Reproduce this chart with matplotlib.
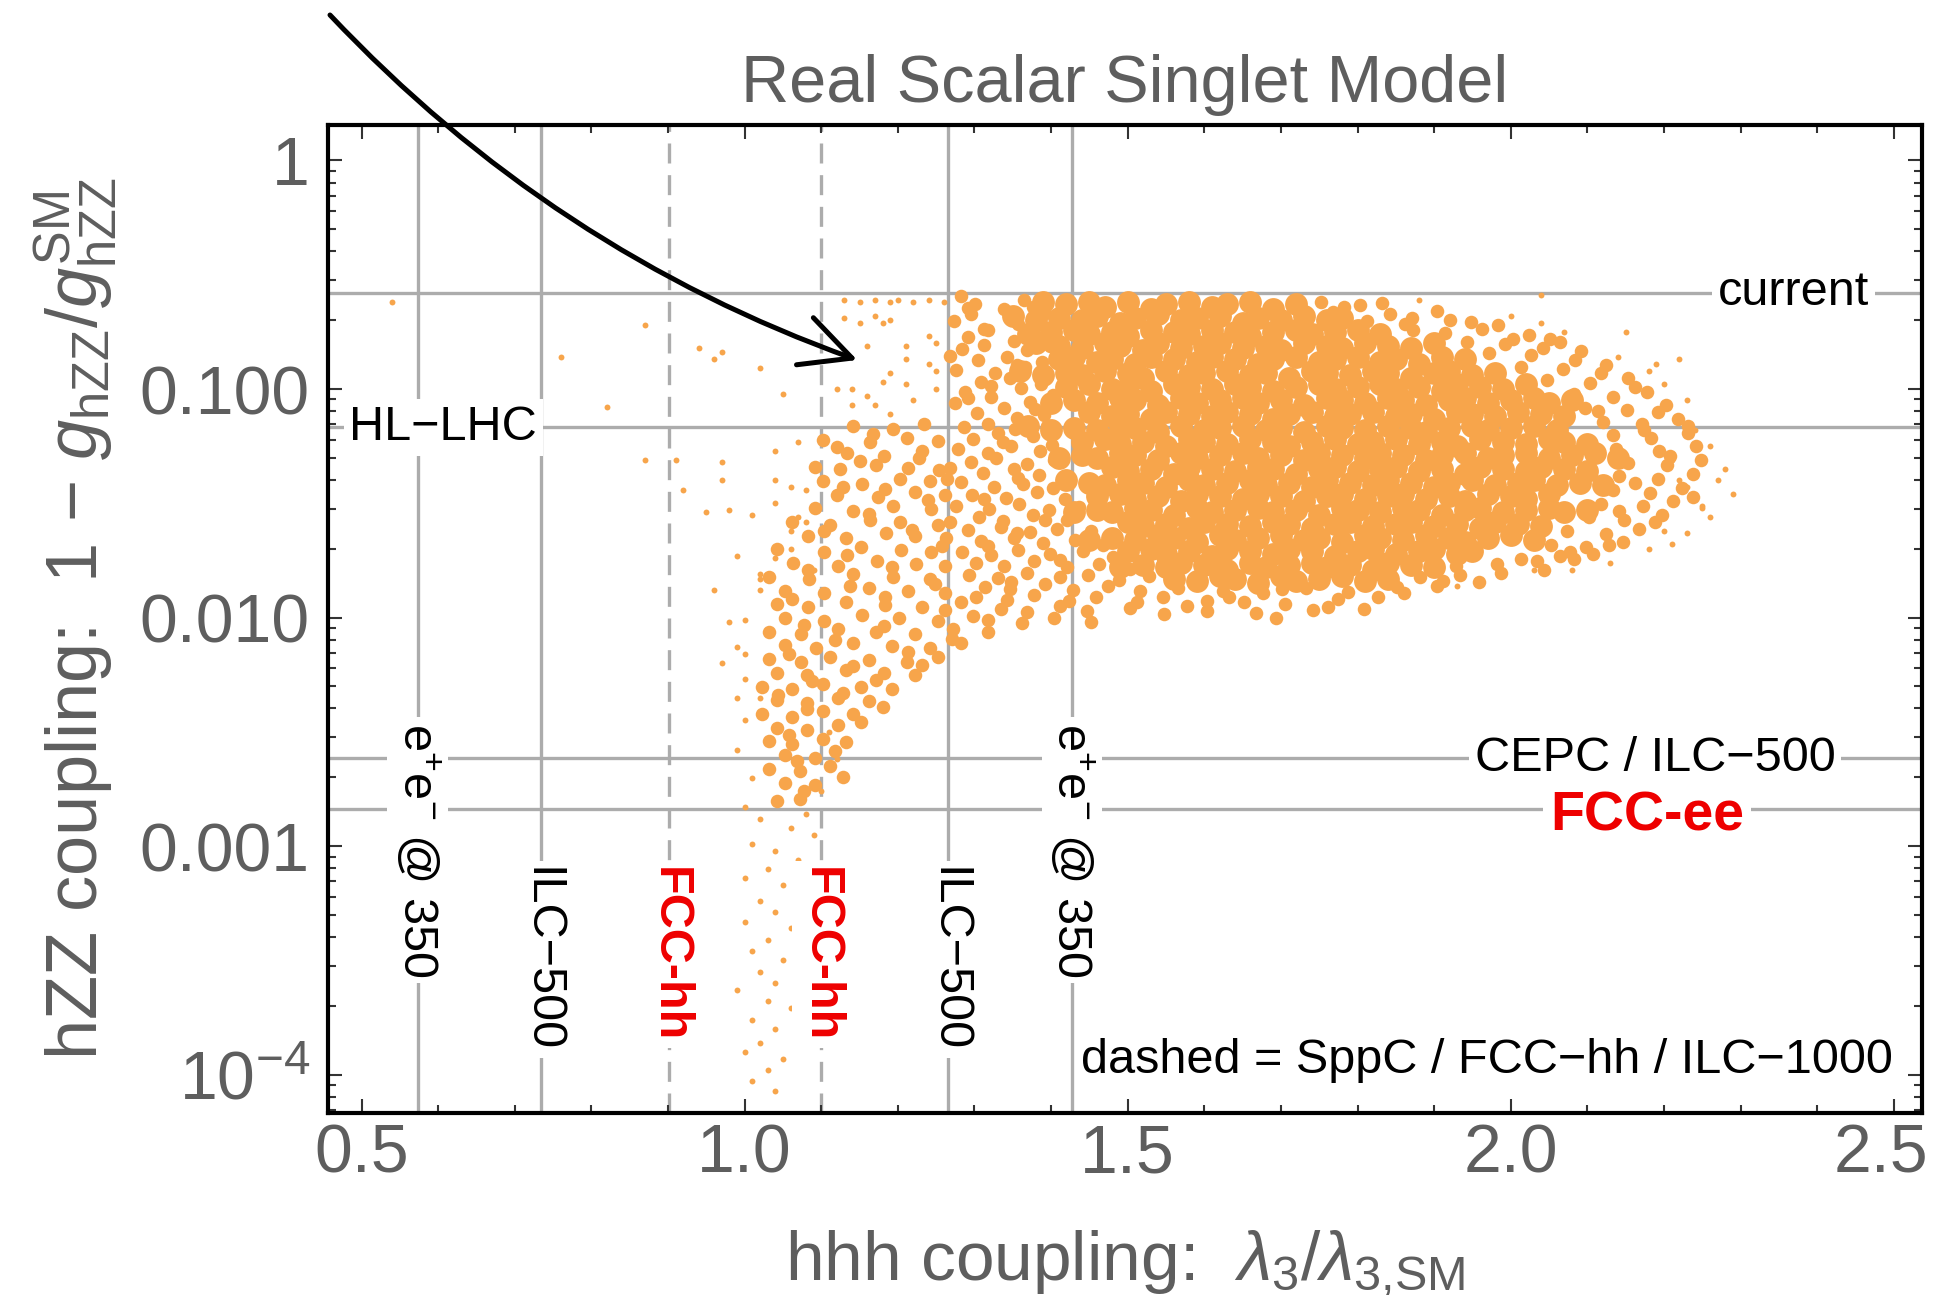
import numpy as np
import matplotlib
matplotlib.use("Agg")
import matplotlib.pyplot as plt
from matplotlib.ticker import FixedLocator, FixedFormatter, MultipleLocator, LogLocator, NullFormatter

plt.rcParams["font.family"] = ["Liberation Sans", "DejaVu Sans"]
plt.rcParams["mathtext.fontset"] = "custom"
plt.rcParams["mathtext.rm"] = "Liberation Sans"
plt.rcParams["mathtext.it"] = "Liberation Sans:italic"
plt.rcParams["mathtext.bf"] = "Liberation Sans:bold"

TXT_GRAY = "#5e5e5e"
LINE_GRAY = "#acacac"
ORANGE = "#f7a54b"
RED = "#ee0000"

# scan points as (lambda3/lambda3_SM, log10(1 - g_hZZ/g_hZZ^SM))
# densest part of the scan
dense_pts = [
    (1.39,-0.62),(1.42,-0.63),(1.45,-0.62),(1.47,-0.64),(1.50,-0.62),(1.53,-0.65),(1.55,-0.63),(1.58,-0.62),(1.61,-0.64),(1.63,-0.63),(1.66,-0.62),(1.69,-0.65),(1.72,-0.63),
    (1.35,-0.68),(1.38,-0.70),(1.41,-0.69),(1.44,-0.70),(1.46,-0.68),(1.49,-0.71),(1.51,-0.69),(1.54,-0.67),(1.57,-0.70),(1.59,-0.69),(1.62,-0.68),(1.65,-0.71),(1.67,-0.69),(1.70,-0.70),(1.73,-0.68),(1.76,-0.70),(1.78,-0.69),
    (1.37,-0.76),(1.40,-0.75),(1.43,-0.74),(1.45,-0.76),(1.48,-0.75),(1.50,-0.77),(1.53,-0.74),(1.56,-0.75),(1.58,-0.76),(1.61,-0.74),(1.64,-0.75),(1.66,-0.77),(1.69,-0.75),(1.72,-0.74),(1.74,-0.76),(1.77,-0.75),(1.80,-0.74),(1.83,-0.76),
    (1.38,-0.80),(1.41,-0.81),(1.44,-0.82),(1.47,-0.80),(1.49,-0.81),(1.52,-0.83),(1.54,-0.80),(1.57,-0.82),(1.60,-0.81),(1.62,-0.80),(1.65,-0.82),(1.68,-0.81),(1.70,-0.83),(1.73,-0.80),(1.76,-0.81),(1.78,-0.82),(1.81,-0.80),(1.84,-0.81),(1.87,-0.82),(1.90,-0.80),
    (1.41,-0.87),(1.43,-0.86),(1.46,-0.88),(1.48,-0.87),(1.51,-0.89),(1.53,-0.86),(1.56,-0.87),(1.59,-0.88),(1.61,-0.86),(1.64,-0.87),(1.67,-0.89),(1.69,-0.87),(1.72,-0.86),(1.75,-0.88),(1.77,-0.87),(1.80,-0.86),(1.83,-0.88),(1.85,-0.87),(1.88,-0.89),(1.91,-0.86),(1.94,-0.87),
    (1.36,-0.92),(1.39,-0.94),(1.42,-0.93),(1.44,-0.94),(1.47,-0.92),(1.50,-0.93),(1.52,-0.95),(1.55,-0.92),(1.58,-0.94),(1.60,-0.93),(1.63,-0.92),(1.66,-0.94),(1.68,-0.93),(1.71,-0.95),(1.74,-0.92),(1.76,-0.93),(1.79,-0.94),(1.82,-0.92),(1.84,-0.93),(1.87,-0.95),(1.90,-0.93),(1.92,-0.92),(1.95,-0.94),(1.98,-0.93),
    (1.42,-0.99),(1.45,-0.98),(1.48,-1.00),(1.50,-0.99),(1.53,-1.01),(1.56,-0.98),(1.58,-0.99),(1.61,-1.00),(1.64,-0.98),(1.66,-0.99),(1.69,-1.01),(1.72,-0.99),(1.75,-0.98),(1.77,-1.00),(1.80,-0.99),(1.83,-0.98),(1.85,-1.00),(1.88,-0.99),(1.91,-1.01),(1.93,-0.98),(1.96,-0.99),(1.99,-1.00),(2.02,-0.98),
    (1.40,-1.06),(1.43,-1.05),(1.46,-1.06),(1.49,-1.04),(1.51,-1.05),(1.54,-1.07),(1.57,-1.04),(1.59,-1.06),(1.62,-1.05),(1.65,-1.04),(1.67,-1.06),(1.70,-1.05),(1.73,-1.07),(1.76,-1.04),(1.78,-1.05),(1.81,-1.06),(1.84,-1.04),(1.86,-1.05),(1.89,-1.07),(1.92,-1.05),(1.94,-1.04),(1.97,-1.06),(2.00,-1.05),(2.03,-1.04),(2.05,-1.06),(2.08,-1.05),
    (1.45,-1.10),(1.48,-1.12),(1.50,-1.11),(1.53,-1.13),(1.55,-1.10),(1.58,-1.11),(1.61,-1.12),(1.63,-1.10),(1.66,-1.11),(1.69,-1.13),(1.71,-1.11),(1.74,-1.10),(1.77,-1.12),(1.79,-1.11),(1.82,-1.10),(1.85,-1.12),(1.87,-1.11),(1.90,-1.13),(1.93,-1.10),(1.95,-1.11),(1.98,-1.12),(2.01,-1.10),(2.04,-1.11),(2.07,-1.12),
    (1.37,-1.16),(1.40,-1.18),(1.43,-1.17),(1.46,-1.18),(1.49,-1.16),(1.51,-1.17),(1.54,-1.19),(1.57,-1.16),(1.60,-1.18),(1.62,-1.17),(1.65,-1.16),(1.68,-1.18),(1.70,-1.17),(1.73,-1.19),(1.76,-1.16),(1.78,-1.17),(1.81,-1.18),(1.84,-1.16),(1.87,-1.17),(1.89,-1.19),(1.92,-1.17),(1.95,-1.16),(1.97,-1.18),(2.00,-1.17),(2.03,-1.16),(2.06,-1.18),
    (1.44,-1.23),(1.47,-1.22),(1.49,-1.24),(1.52,-1.23),(1.55,-1.25),(1.58,-1.22),(1.60,-1.23),(1.63,-1.24),(1.66,-1.22),(1.69,-1.23),(1.71,-1.25),(1.74,-1.23),(1.77,-1.22),(1.80,-1.24),(1.82,-1.23),(1.85,-1.22),(1.88,-1.24),(1.91,-1.23),(1.93,-1.25),(1.96,-1.22),(1.99,-1.23),(2.02,-1.24),(2.05,-1.22),(2.07,-1.23),(2.10,-1.24),
    (1.41,-1.30),(1.44,-1.29),(1.46,-1.30),(1.49,-1.28),(1.51,-1.29),(1.54,-1.31),(1.57,-1.28),(1.59,-1.30),(1.62,-1.29),(1.65,-1.28),(1.67,-1.30),(1.70,-1.29),(1.73,-1.31),(1.75,-1.28),(1.78,-1.29),(1.81,-1.30),(1.83,-1.28),(1.86,-1.29),(1.89,-1.31),(1.91,-1.29),(1.94,-1.28),(1.97,-1.30),(1.99,-1.29),(2.02,-1.28),(2.05,-1.30),(2.08,-1.29),(2.11,-1.28),(2.14,-1.30),
    (1.48,-1.34),(1.50,-1.36),(1.53,-1.35),(1.56,-1.37),(1.58,-1.34),(1.61,-1.35),(1.64,-1.36),(1.67,-1.34),(1.69,-1.35),(1.72,-1.37),(1.75,-1.35),(1.77,-1.34),(1.80,-1.36),(1.83,-1.35),(1.85,-1.34),(1.88,-1.36),(1.91,-1.35),(1.94,-1.37),(1.96,-1.34),(1.99,-1.35),(2.02,-1.36),(2.04,-1.34),(2.07,-1.35),(2.10,-1.36),
    (1.42,-1.40),(1.45,-1.41),(1.47,-1.42),(1.50,-1.40),(1.52,-1.41),(1.55,-1.43),(1.58,-1.40),(1.60,-1.42),(1.63,-1.41),(1.66,-1.40),(1.68,-1.42),(1.71,-1.41),(1.74,-1.43),(1.76,-1.40),(1.79,-1.41),(1.82,-1.42),(1.84,-1.40),(1.87,-1.41),(1.90,-1.43),(1.92,-1.41),(1.95,-1.40),(1.98,-1.42),(2.01,-1.41),(2.03,-1.40),(2.06,-1.42),(2.09,-1.41),(2.12,-1.42),
    (1.46,-1.47),(1.49,-1.46),(1.51,-1.48),(1.54,-1.47),(1.57,-1.49),(1.59,-1.46),(1.62,-1.47),(1.65,-1.48),(1.67,-1.46),(1.70,-1.47),(1.73,-1.49),(1.76,-1.47),(1.78,-1.46),(1.81,-1.48),(1.84,-1.47),(1.86,-1.46),(1.89,-1.48),(1.92,-1.47),(1.94,-1.49),(1.97,-1.46),(2.00,-1.47),(2.02,-1.48),(2.05,-1.46),
    (1.43,-1.54),(1.46,-1.53),(1.48,-1.54),(1.51,-1.52),(1.53,-1.53),(1.56,-1.55),(1.59,-1.52),(1.61,-1.54),(1.64,-1.53),(1.67,-1.52),(1.69,-1.54),(1.72,-1.53),(1.75,-1.55),(1.78,-1.52),(1.80,-1.53),(1.83,-1.54),(1.86,-1.52),(1.88,-1.53),(1.91,-1.55),(1.94,-1.53),(1.96,-1.52),(1.99,-1.54),(2.02,-1.53),(2.05,-1.52),(2.07,-1.54),(2.10,-1.53),
    (1.50,-1.58),(1.52,-1.60),(1.55,-1.59),(1.58,-1.61),(1.60,-1.58),(1.63,-1.59),(1.66,-1.60),(1.69,-1.58),(1.71,-1.59),(1.74,-1.61),(1.77,-1.59),(1.79,-1.58),(1.82,-1.60),(1.85,-1.59),(1.87,-1.58),(1.90,-1.60),(1.93,-1.59),(1.96,-1.61),(1.98,-1.58),(2.01,-1.59),(2.04,-1.60),
    (1.45,-1.66),(1.48,-1.65),(1.51,-1.66),(1.54,-1.64),(1.56,-1.65),(1.59,-1.67),(1.62,-1.64),(1.64,-1.66),(1.67,-1.65),(1.70,-1.64),(1.73,-1.66),(1.75,-1.65),(1.78,-1.67),(1.81,-1.64),(1.83,-1.65),(1.86,-1.66),(1.89,-1.64),(1.92,-1.65),(1.94,-1.67),(1.97,-1.65),(2.00,-1.64),(2.03,-1.66),
    (1.50,-1.71),(1.53,-1.70),(1.55,-1.72),(1.58,-1.71),(1.61,-1.73),(1.63,-1.70),(1.66,-1.71),(1.69,-1.72),(1.71,-1.70),(1.74,-1.71),(1.77,-1.73),(1.80,-1.71),(1.82,-1.70),(1.85,-1.72),(1.88,-1.71),(1.90,-1.70),(1.93,-1.72),(1.95,-1.71),
    (1.49,-1.78),(1.52,-1.77),(1.55,-1.78),(1.57,-1.76),(1.60,-1.77),(1.63,-1.79),(1.66,-1.76),(1.68,-1.78),(1.71,-1.77),(1.74,-1.76),(1.76,-1.78),(1.79,-1.77),(1.82,-1.79),(1.84,-1.76),(1.87,-1.77),(1.90,-1.78),
    (1.56,-1.83),(1.59,-1.84),(1.62,-1.82),(1.64,-1.83),(1.67,-1.85),(1.70,-1.82),(1.72,-1.84),(1.75,-1.83),(1.78,-1.82),(1.81,-1.84),(1.84,-1.83),
]

# medium density: left shoulder, lower arm and fringes of the core
mid_pts = [
    (1.282,-0.595),(1.301,-0.628),(1.364,-0.612),(1.376,-0.641),(1.296,-0.672),(1.338,-0.652),(1.392,-0.668),
    (1.273,-0.703),(1.318,-0.741),(1.357,-0.716),(1.401,-0.733),(1.291,-0.772),(1.351,-0.788),(1.379,-0.762),
    (1.284,-0.823),(1.313,-0.806),(1.369,-0.829),(1.398,-0.812),(1.305,-0.875),(1.342,-0.858),(1.388,-0.884),
    (1.276,-0.918),(1.327,-0.932),(1.366,-0.905),(1.309,-0.968),(1.346,-0.951),(1.387,-0.977),
    (1.288,-1.012),(1.322,-1.034),(1.361,-0.996),(1.402,-1.027),(1.274,-1.061),(1.338,-1.082),(1.372,-1.058),
    (1.303,-1.107),(1.356,-1.129),(1.391,-1.114),(1.286,-1.166),(1.317,-1.152),(1.353,-1.173),(1.395,-1.161),
    (1.298,-1.219),(1.337,-1.232),(1.376,-1.207),(1.279,-1.262),(1.318,-1.281),(1.348,-1.248),(1.386,-1.273),
    (1.296,-1.318),(1.328,-1.304),(1.368,-1.327),(1.404,-1.311),(1.311,-1.369),(1.352,-1.352),(1.384,-1.378),
    (1.282,-1.408),(1.326,-1.427),(1.363,-1.414),(1.402,-1.433),(1.297,-1.462),(1.341,-1.476),(1.381,-1.452),(1.418,-1.481),
    (1.276,-1.512),(1.319,-1.527),(1.358,-1.505),(1.397,-1.531),(1.436,-1.518),(1.306,-1.561),(1.337,-1.579),(1.377,-1.552),(1.421,-1.573),
    (1.291,-1.618),(1.334,-1.603),(1.372,-1.626),(1.408,-1.611),(1.452,-1.622),(1.309,-1.667),(1.351,-1.654),(1.389,-1.674),(1.431,-1.659),(1.468,-1.681),
    (1.284,-1.712),(1.322,-1.726),(1.357,-1.703),(1.398,-1.724),(1.442,-1.708),(1.481,-1.734),
    (1.302,-1.763),(1.339,-1.775),(1.378,-1.752),(1.421,-1.781),(1.462,-1.764),(1.503,-1.786),
    (1.293,-1.812),(1.331,-1.827),(1.369,-1.804),(1.412,-1.823),(1.448,-1.812),(1.489,-1.836),(1.528,-1.818),
    (1.314,-1.866),(1.347,-1.874),(1.392,-1.853),(1.428,-1.879),(1.474,-1.861),(1.516,-1.884),(1.566,-1.871),
    (1.302,-1.912),(1.343,-1.924),(1.378,-1.903),(1.424,-1.927),(1.458,-1.908),(1.512,-1.934),(1.546,-1.912),(1.603,-1.926),
    (1.334,-1.962),(1.368,-1.974),(1.412,-1.951),(1.447,-1.973),(1.503,-1.958),(1.548,-1.984),(1.318,-2.012),(1.362,-2.024),(1.404,-2.003),(1.452,-2.021),
    (1.624,-1.882),(1.677,-1.894),(1.733,-1.872),(1.788,-1.887),(1.852,-1.868),(1.904,-1.862),(1.958,-1.843),
    (1.652,-1.934),(1.706,-1.942),(1.774,-1.921),(1.827,-1.912),(1.603,-1.972),(1.668,-1.982),(1.742,-1.968),(1.808,-1.961),
    (1.882,-1.823),(1.934,-1.812),(1.987,-1.804),(2.043,-1.793),(1.928,-1.773),(1.982,-1.764),(2.034,-1.752),(2.083,-1.743),
    (2.003,-0.782),(2.064,-0.793),(1.972,-0.843),(2.027,-0.852),(2.092,-0.833),(2.013,-0.902),(2.068,-0.914),(2.124,-0.893),
    (2.047,-0.962),(2.103,-0.974),(2.153,-0.951),(2.082,-1.023),(2.133,-1.034),(2.178,-1.012),(2.097,-1.082),(2.152,-1.093),(2.203,-1.071),
    (2.121,-1.143),(2.172,-1.154),(2.218,-1.132),(2.134,-1.202),(2.183,-1.214),(2.232,-1.193),(2.138,-1.262),(2.193,-1.273),(2.242,-1.251),
    (2.153,-1.322),(2.204,-1.334),(2.248,-1.312),(2.142,-1.382),(2.192,-1.393),(2.238,-1.371),(2.133,-1.442),(2.182,-1.454),(2.224,-1.432),
    (2.118,-1.502),(2.173,-1.513),(2.212,-1.491),(2.102,-1.562),(2.148,-1.574),(2.198,-1.553),(2.073,-1.622),(2.124,-1.633),(2.168,-1.612),
    (2.052,-1.682),(2.098,-1.693),(2.147,-1.671),(2.013,-1.742),(2.064,-1.731),(2.108,-1.722),
    (1.752,-0.621),(1.803,-0.634),(1.768,-0.662),(1.843,-0.673),(1.904,-0.658),(1.812,-0.703),(1.862,-0.714),(1.921,-0.696),(1.983,-0.722),
    (1.872,-0.742),(1.914,-0.753),(1.962,-0.738),(2.024,-0.762),(1.943,-0.793),(1.993,-0.804),
    (1.142,-1.163),(1.193,-1.174),(1.234,-1.152),(1.102,-1.221),(1.163,-1.233),(1.212,-1.214),(1.252,-1.226),
    (1.133,-1.282),(1.182,-1.293),(1.231,-1.271),(1.092,-1.343),(1.124,-1.352),(1.172,-1.331),(1.213,-1.344),(1.254,-1.353),
    (1.102,-1.402),(1.153,-1.414),(1.203,-1.392),(1.242,-1.404),(1.121,-1.462),(1.174,-1.473),(1.222,-1.451),(1.261,-1.464),
    (1.092,-1.522),(1.142,-1.533),(1.193,-1.511),(1.243,-1.524),(1.062,-1.582),(1.112,-1.593),(1.164,-1.571),(1.203,-1.584),(1.252,-1.593),
    (1.083,-1.642),(1.132,-1.653),(1.184,-1.631),(1.222,-1.644),(1.263,-1.653),(1.042,-1.702),(1.103,-1.713),(1.152,-1.691),(1.204,-1.703),(1.243,-1.714),
    (1.063,-1.762),(1.122,-1.773),(1.173,-1.751),(1.224,-1.764),(1.262,-1.773),(1.032,-1.822),(1.084,-1.833),(1.142,-1.811),(1.193,-1.824),(1.242,-1.833),
    (1.053,-1.882),(1.104,-1.893),(1.162,-1.871),(1.213,-1.884),(1.261,-1.893),(1.042,-1.942),(1.083,-1.953),(1.132,-1.931),(1.183,-1.944),(1.232,-1.953),(1.282,-1.932),
    (1.052,-2.002),(1.103,-2.013),(1.153,-1.991),(1.202,-2.004),(1.252,-2.013),(1.298,-1.992),
    (1.032,-2.062),(1.073,-2.073),(1.122,-2.051),(1.172,-2.064),(1.222,-2.073),(1.272,-2.052),(1.318,-2.063),
    (1.052,-2.122),(1.093,-2.133),(1.142,-2.111),(1.192,-2.124),(1.242,-2.133),(1.282,-2.112),
    (1.032,-2.182),(1.073,-2.193),(1.112,-2.171),(1.162,-2.184),(1.212,-2.193),(1.252,-2.172),
    (1.042,-2.242),(1.082,-2.253),(1.132,-2.231),(1.182,-2.244),(1.222,-2.253),(1.022,-2.302),(1.062,-2.313),(1.102,-2.291),(1.152,-2.304),(1.192,-2.313),
    (1.042,-2.362),(1.082,-2.373),(1.122,-2.351),(1.162,-2.364),(1.022,-2.422),(1.062,-2.433),(1.102,-2.411),(1.142,-2.424),
    (1.042,-2.482),(1.082,-2.493),(1.122,-2.471),(1.032,-2.542),(1.062,-2.553),(1.102,-2.531),(1.132,-2.544),
    (1.052,-2.602),(1.092,-2.613),(1.032,-2.662),(1.072,-2.673),(1.112,-2.651),(1.052,-2.722),(1.092,-2.733),(1.042,-2.802),(1.072,-2.793),
    (1.291,-0.647),(1.347,-0.688),(1.312,-0.738),(1.383,-0.797),(1.268,-0.856),(1.356,-0.893),(1.321,-0.987),(1.292,-1.041),(1.379,-1.086),(1.331,-1.194),
    (1.401,-1.243),(1.268,-1.347),(1.357,-1.391),(1.312,-1.482),(1.392,-1.572),(1.268,-1.583),(1.355,-1.632),(1.318,-1.688),(1.412,-1.748),(1.348,-1.843),
    (1.168,-1.195),(1.121,-1.253),(1.228,-1.302),(1.151,-1.314),(1.264,-1.392),(1.183,-1.437),(1.128,-1.428),(1.239,-1.487),(1.162,-1.545),(1.218,-1.617),
    (1.104,-1.622),(1.257,-1.685),(1.134,-1.727),(1.192,-1.781),(1.083,-1.792),(1.248,-1.852),(1.138,-1.862),(1.183,-1.912),(1.062,-1.918),(1.262,-1.968),
    (1.078,-2.032),(1.182,-2.037),(1.271,-2.094),(1.118,-2.098),(1.213,-2.152),(1.058,-2.158),(1.142,-2.212),(1.232,-2.208),(1.088,-2.278),(1.172,-2.272),
    (1.043,-2.338),(1.128,-2.332),(1.181,-2.392),(1.082,-2.402),(1.152,-2.458),(1.058,-2.512),(1.118,-2.582),(1.068,-2.628),(1.128,-2.698),(1.078,-2.758),
    (2.118,-0.932),(2.162,-0.991),(2.192,-1.102),(2.232,-1.162),(2.208,-1.292),(2.162,-1.412),(2.238,-1.472),(2.142,-1.532),(2.188,-1.582),(2.128,-1.683),
    (2.078,-1.712),(2.174,-1.181),(2.114,-1.098),(2.084,-0.872),(2.042,-0.822),
    (1.782,-0.641),(1.871,-0.688),(1.948,-0.706),(1.832,-0.622),(2.051,-0.782),
    (1.632,-1.912),(1.702,-1.873),(1.762,-1.952),(1.861,-1.893),(1.912,-1.842),(1.578,-1.951),(1.694,-2.002),
]

# isolated points: low tail, left side, outliers and right edge
sparse_pts = [
    (1.02,-2.88),(1.06,-2.92),(1.09,-2.95),(1.01,-2.99),(1.04,-3.02),(1.07,-3.06),(1.03,-3.10),(1.00,-3.14),(1.05,-3.17),(1.08,-3.20),
    (1.02,-3.24),(1.04,-3.29),(1.00,-3.33),(1.06,-3.36),(1.03,-3.41),(1.01,-3.46),(1.05,-3.50),(1.02,-3.55),(1.04,-3.60),(0.99,-3.63),
    (1.03,-3.68),(1.06,-3.71),(1.01,-3.76),(1.04,-3.80),(1.02,-3.86),(1.00,-3.90),(1.05,-3.93),(1.03,-3.98),(1.01,-4.03),(1.04,-4.07),
    (1.00,-2.45),(1.11,-2.50),(0.99,-2.58),(1.12,-2.62),(1.01,-2.70),(1.10,-2.76),(1.00,-2.83),(1.08,-2.86),
    (0.97,-2.20),(0.98,-2.02),(0.96,-1.88),(1.02,-1.81),(1.02,-1.88),(1.00,-2.01),(0.99,-2.13),(1.00,-2.16),(1.00,-2.27),(0.99,-2.35),(1.02,-2.35),
    (1.13,-0.69),(1.15,-0.71),(1.17,-0.68),(1.18,-0.71),(1.19,-0.70),(1.16,-0.81),(1.21,-0.81),(1.21,-0.87),(1.19,-0.93),(1.18,-0.97),
    (1.21,-0.98),(1.12,-1.00),(1.14,-1.00),(1.16,-1.03),(1.14,-1.07),(1.17,-1.07),(1.19,-1.11),(1.24,-0.77),(1.25,-0.80),(1.24,-0.89),
    (1.25,-0.92),(1.22,-1.05),(1.25,-1.00),
    (1.13,-0.61),(1.15,-0.62),(1.17,-0.61),(1.19,-0.62),(1.20,-0.61),(1.22,-0.62),(1.24,-0.61),(1.26,-0.62),
    (0.96,-0.87),(0.97,-0.84),(1.02,-0.91),(1.05,-1.02),(0.94,-0.82),
    (1.07,-1.23),(1.04,-1.27),(0.97,-1.32),(0.97,-1.40),(1.04,-1.40),(1.06,-1.43),(1.08,-1.44),(1.04,-1.50),(0.95,-1.54),(0.98,-1.53),
    (1.01,-1.55),(1.07,-1.56),(1.06,-1.62),(1.08,-1.58),(0.99,-1.73),(1.04,-1.74),(1.06,-1.70),(1.02,-1.83),(1.09,-1.79),
    (0.54,-0.62),(0.76,-0.86),(0.82,-1.08),(0.87,-0.72),(0.87,-1.31),(0.91,-1.31),(0.92,-1.44),
    (2.29,-1.46),(2.28,-1.35),(2.22,-0.87),(2.15,-0.75),(2.26,-1.56),(2.23,-1.63),(2.21,-1.68),(2.23,-1.43),(2.22,-1.40),(2.25,-1.51),
    (2.21,-1.31),(2.18,-0.92),(2.19,-0.89),(2.14,-0.86),(2.07,-0.75),(2.04,-0.71),(2.00,-0.68),(1.88,-0.61),(2.04,-0.59),(2.20,-1.62),
    (2.18,-1.70),(2.13,-1.76),(2.08,-1.79),(2.03,-1.79),(1.99,-1.81),(1.93,-1.86),
    (2.26,-1.25),(2.27,-1.40),(2.24,-1.18),(2.25,-1.52),(2.23,-1.05),(2.20,-0.98),
]

# projected reach of the experiments
hzz_values = [0.264, 0.068, 0.00242, 0.00145]
hhh_solid = [0.573, 0.734, 1.266, 1.427]
hhh_dashed = [0.901, 1.099]

y_ticks = [1e-4, 1e-3, 1e-2, 1e-1, 1.0]
y_tick_labels = [r"$\mathregular{10^{-4}}$", "0.001", "0.010", "0.100", "1"]
x_ticks = [0.5, 1.0, 1.5, 2.0, 2.5]
x_tick_labels = ["0.5", "1.0", "1.5", "2.0", "2.5"]


def unpack(pts):
    arr = np.array(pts)
    return arr[:, 0], 10.0 ** arr[:, 1]


fig = plt.figure(figsize=(19.37, 12.95), dpi=100)
ax = fig.add_axes([0.1693, 0.1405, 0.8230, 0.7630])

ax.set_xlim(0.456, 2.537)
ax.set_yscale("log")
ax.set_ylim(6.79e-5, 1.43)

for v in hzz_values:
    ax.axhline(v, color=LINE_GRAY, lw=2.4, zorder=1)
for v in hhh_solid:
    ax.axvline(v, color=LINE_GRAY, lw=2.4, zorder=1)
for v in hhh_dashed:
    ax.axvline(v, color=LINE_GRAY, lw=2.4, dashes=(6, 3.5), zorder=1)

x, y = unpack(sparse_pts)
ax.scatter(x, y, s=18, color=ORANGE, linewidths=0, zorder=2)
x, y = unpack(mid_pts)
ax.scatter(x, y, s=95, color=ORANGE, linewidths=0, zorder=2)
x, y = unpack(dense_pts)
ax.scatter(x, y, s=270, color=ORANGE, linewidths=0, zorder=2)

white = dict(boxstyle="square,pad=0.12", fc="white", ec="none")

# horizontal reach labels
ax.text(0.484, hzz_values[1], "HL\u2212LHC", ha="left", va="center", fontsize=35, bbox=white, zorder=4)
ax.text(2.468, hzz_values[0], "current", ha="right", va="center", fontsize=35, bbox=white, zorder=4)
ax.text(2.424, hzz_values[2], "CEPC / ILC\u2212500", ha="right", va="center", fontsize=35, bbox=white, zorder=4)
ax.text(2.178, 10 ** -2.87, "FCC-ee", ha="center", va="center", fontsize=40, fontweight="bold",
        color=RED, bbox=white, zorder=4)

# vertical reach labels
ee_label = r"$\mathregular{e^{+}e^{-}}$ @ 350"
for xv in (hhh_solid[0], hhh_solid[3]):
    ax.text(xv, 10 ** -2.46, ee_label, rotation=-90, ha="center", va="top", fontsize=35, bbox=white, zorder=4)
for xv in (hhh_solid[1], hhh_solid[2]):
    ax.text(xv, 10 ** -3.09, "ILC\u2212500", rotation=-90, ha="center", va="top", fontsize=35, bbox=white, zorder=4)
for xv in hhh_dashed:
    ax.text(xv, 10 ** -3.09, "FCC-hh", rotation=-90, ha="center", va="top", fontsize=35, fontweight="bold",
            color=RED, bbox=white, zorder=4)

ax.text(1.439, 10 ** -3.993, "dashed = SppC / FCC\u2212hh / ILC\u22121000", ha="left", va="baseline",
        fontsize=35, zorder=4)

# axes styling
ax.xaxis.set_major_locator(FixedLocator(x_ticks))
ax.xaxis.set_major_formatter(FixedFormatter(x_tick_labels[:-1] + [""]))
ax.xaxis.set_minor_locator(MultipleLocator(0.1))
ax.yaxis.set_major_locator(FixedLocator(y_ticks))
ax.yaxis.set_major_formatter(FixedFormatter(y_tick_labels))
ax.yaxis.set_minor_locator(LogLocator(base=10, subs=np.arange(2, 10)))
ax.yaxis.set_minor_formatter(NullFormatter())

ax.tick_params(which="both", direction="in", top=True, right=True, color="#333333", width=1.5,
               labelcolor=TXT_GRAY, labelsize=49)
ax.tick_params(which="major", length=10)
ax.tick_params(which="minor", length=6)
ax.tick_params(axis="x", pad=7)
ax.tick_params(axis="y", pad=13)
for sp in ax.spines.values():
    sp.set_linewidth(3)
    sp.set_color("black")

# last x label sits against the figure edge, nudge it inwards
ax.annotate(x_tick_labels[-1], xy=(x_ticks[-1], 0), xycoords=("data", "axes fraction"),
            xytext=(-9, -7), textcoords="offset points", ha="center", va="top",
            fontsize=49, color=TXT_GRAY, annotation_clip=False)

fig.text(0.5808, 0.9212, "Real Scalar Singlet Model", ha="center", va="baseline", fontsize=48, color=TXT_GRAY)
fig.text(0.5808, 0.0116, r"hhh coupling:  $\lambda_3/\lambda_{3{,}\mathrm{SM}}$", ha="center", va="baseline",
         fontsize=50, color=TXT_GRAY)
fig.text(0.062, 0.522, r"hZZ coupling:  1 $-$ $g_{\mathrm{hZZ}}/g_{\mathrm{hZZ}}^{\mathrm{SM}}$", rotation=90,
         ha="right", va="center", fontsize=52, color=TXT_GRAY)

# pointer into the scan from the top left
ax.annotate("", xy=(1.147, 10 ** -0.873), xycoords="data",
            xytext=(330 / 1937, 1 - 15 / 1295), textcoords="figure fraction",
            arrowprops=dict(arrowstyle="->,head_length=0.8,head_width=0.4", connectionstyle="arc3,rad=0.12",
                            lw=3.6, color="black", mutation_scale=45, shrinkA=0, shrinkB=0),
            annotation_clip=False, zorder=6)

fig.savefig("out.png", dpi=100)
